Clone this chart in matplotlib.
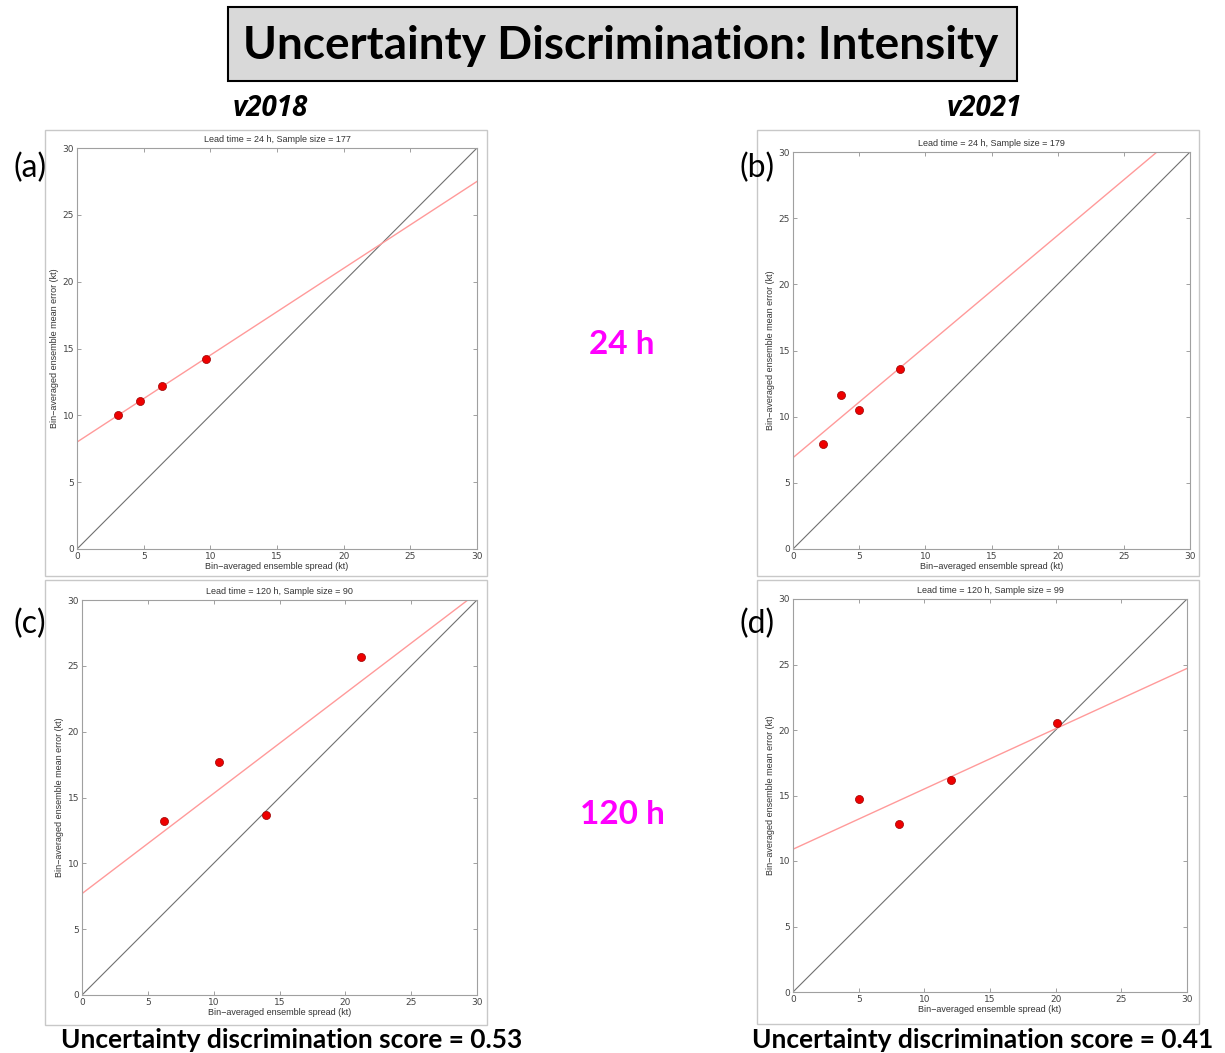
import numpy as np
import matplotlib.pyplot as plt
from matplotlib.patches import Rectangle

W, H = 1225, 1053

# bin-averaged spread (x) and mean error (y)
spread_a = [3.1, 4.75, 6.4, 9.7]
error_a = [10.0, 11.1, 12.2, 14.2]
spread_b = [2.3, 3.6, 4.95, 8.05]
error_b = [7.9, 11.6, 10.5, 13.6]
spread_c = [6.2, 10.4, 14.0, 21.2]
error_c = [13.2, 17.7, 13.7, 25.7]
spread_d = [5.0, 8.05, 12.0, 20.1]
error_d = [14.75, 12.8, 16.2, 20.55]

# fitted lines: (intercept, slope)
fit_a = (8.0, 0.65)
fit_b = (6.9, 0.84)
fit_c = (7.7, 0.761)
fit_d = (10.9, 0.46)

titles = ["Lead time = 24 h, Sample size = 177",
          "Lead time = 24 h, Sample size = 179",
          "Lead time = 120 h, Sample size = 90",
          "Lead time = 120 h, Sample size = 99"]
letters = ["(a)", "(b)", "(c)", "(d)"]
scores = ["0.53", "0.41"]
ticks = [0, 5, 10, 15, 20, 25, 30]

# axes boxes in pixels: left, top, right, bottom
boxes = [(77, 148, 477, 549), (793, 152, 1190, 549),
         (82, 600, 477, 995), (793, 599, 1187, 992)]
frames = [(45, 130, 487, 576), (757, 130, 1199, 576),
          (45, 580, 487, 1025), (757, 580, 1199, 1024)]
letter_pos = [(30, 168), (757, 168), (30, 624), (757, 624)]

data = [(spread_a, error_a, fit_a), (spread_b, error_b, fit_b),
        (spread_c, error_c, fit_c), (spread_d, error_d, fit_d)]

fig = plt.figure(figsize=(W / 100, H / 100), dpi=100)

def fx(px):
    return px / W

def fy(py):
    return 1 - py / H

# title box
fig.patches.append(Rectangle((fx(228), fy(81)), fx(1017) - fx(228), fy(7) - fy(81),
                             transform=fig.transFigure, facecolor="#d9d9d9",
                             edgecolor="black", linewidth=1.5))
fig.text(fx(621), fy(46), "Uncertainty Discrimination: Intensity", family="Lato",
         fontweight="bold", fontsize=33, ha="center", va="center")

fig.text(fx(270), fy(109), "v2018", family="Open Sans", fontweight="bold",
         style="italic", fontsize=20, ha="center", va="center")
fig.text(fx(984), fy(109), "v2021", family="Open Sans", fontweight="bold",
         style="italic", fontsize=20, ha="center", va="center")

fig.text(fx(622), fy(345), "24 h", family="Lato", fontweight="bold", fontsize=24,
         color="#ff00ff", ha="center", va="center")
fig.text(fx(622), fy(815), "120 h", family="Lato", fontweight="bold", fontsize=24,
         color="#ff00ff", ha="center", va="center")

fig.text(fx(292), fy(1040), "Uncertainty discrimination score = " + scores[0], family="Lato",
         fontweight="bold", fontsize=19, ha="center", va="center")
fig.text(fx(983), fy(1040), "Uncertainty discrimination score = " + scores[1], family="Lato",
         fontweight="bold", fontsize=19, ha="center", va="center")

for i in range(4):
    l, t, r, b = frames[i]
    fig.patches.append(Rectangle((fx(l), fy(b)), fx(r) - fx(l), fy(t) - fy(b),
                                 transform=fig.transFigure, facecolor="none",
                                 edgecolor="#c8c8c8", linewidth=1, zorder=-1))

    l, t, r, b = boxes[i]
    ax = fig.add_axes([fx(l), fy(b), fx(r) - fx(l), fy(t) - fy(b)])
    xs, ys, fit = data[i]
    xx = np.array([0, 30])
    ax.plot(xx, xx, color="#707070", lw=0.8)
    ax.plot(xx, fit[0] + fit[1] * xx, color="#ff9a9a", lw=1.0)
    ax.plot(xs, ys, "o", color="#ee0000", mec="#990000", mew=0.5, ms=5.8)
    ax.set_xlim(0, 30)
    ax.set_ylim(0, 30)
    ax.set_xticks(ticks)
    ax.set_yticks(ticks)
    ax.tick_params(direction="in", length=3, width=0.6, color="#909090", labelsize=6.5,
                   labelcolor="#444444", top=True, right=True, pad=2)
    for s in ax.spines.values():
        s.set_color("#a0a0a0")
        s.set_linewidth(0.8)
    ax.set_title(titles[i], fontsize=6.5, color="#333333", pad=4, family="Liberation Sans")
    ax.set_xlabel("Bin\u2212averaged ensemble spread (kt)", fontsize=6.5, color="#333333",
                  labelpad=1, family="Liberation Sans")
    ax.set_ylabel("Bin\u2212averaged ensemble mean error (kt)", fontsize=6.5, color="#333333",
                  labelpad=3, family="Liberation Sans")

    lx, ly = letter_pos[i]
    fig.text(fx(lx), fy(ly), letters[i], family="Lato", fontsize=23, ha="center",
             va="center")

fig.savefig("out.png", dpi=100)
